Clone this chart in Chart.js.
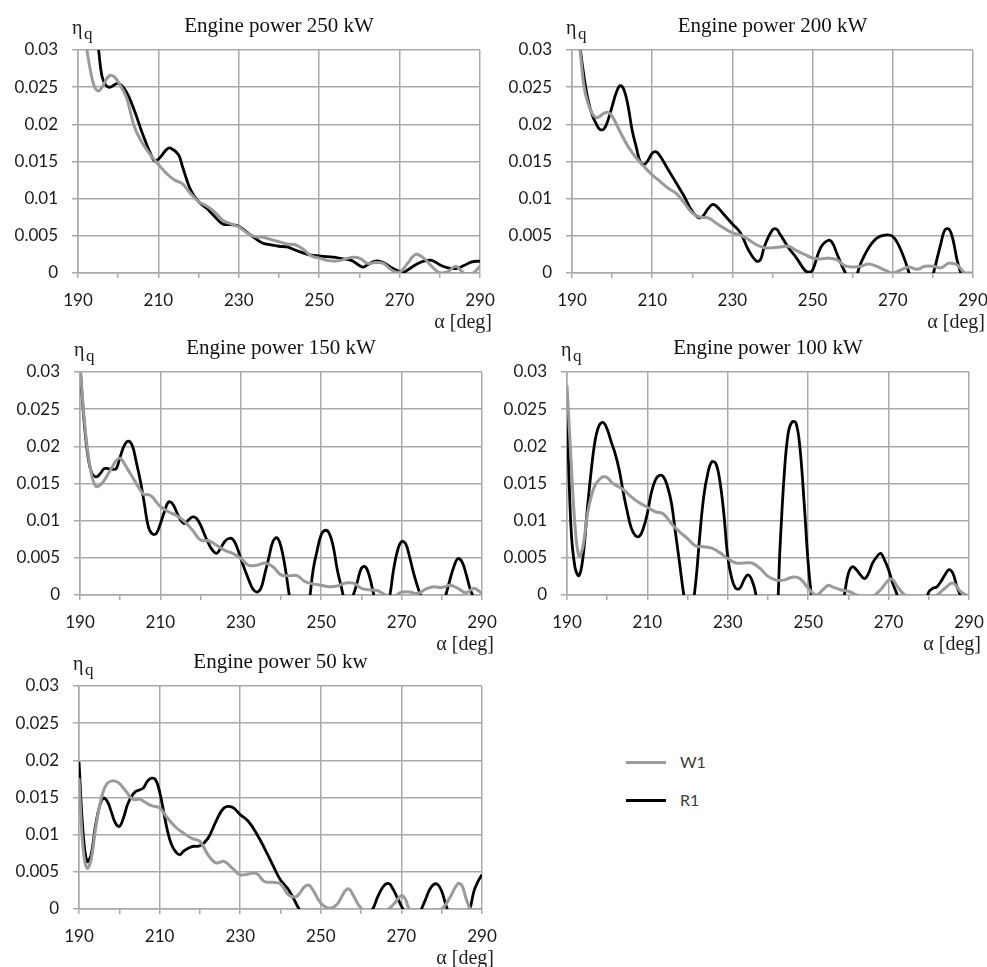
<!DOCTYPE html>
<html>
<head>
<meta charset="utf-8">
<script src="https://cdn.jsdelivr.net/npm/chart.js@4.4.1/dist/chart.umd.min.js"></script>
<style>
  html, body { margin: 0; padding: 0; background: #ffffff; overflow: hidden; }
  body { width: 987px; height: 967px; position: relative; }
  canvas { position: absolute; }
  .lg-line { position: absolute; width: 40px; height: 3px; }
  .lg-text { position: absolute; font: 16px Lato, "Open Sans", sans-serif; color: #3a3a3a; line-height: 16px; }
</style>
</head>
<body>
<div class="lg-line" style="left:626px; top:761px; background:#9a9a9a;"></div>
<div class="lg-text" style="left:680px; top:754px;">W1</div>
<div class="lg-line" style="left:626px; top:799px; background:#000000;"></div>
<div class="lg-text" style="left:680px; top:792px;">R1</div>
<script>
// ---------------- DATA ----------------
const xTickValues = [190, 210, 230, 250, 270, 290];
const yTickValues = [0, 0.005, 0.01, 0.015, 0.02, 0.025, 0.03];
const seriesNames = ['W1', 'R1'];
const panelTitles = ['Engine power 250 kW', 'Engine power 200 kW', 'Engine power 150 kW', 'Engine power 100 kW', 'Engine power 50 kw'];

// [angle in deg, eta_q]
const p250_W1 = [[190,0.045],[191,0.038],[192,0.031],[193,0.0275],[194,0.0252],[195,0.0245],[196,0.025],[197,0.026],[198,0.0266],[199,0.0264],[200,0.0257],[202,0.0237],[204,0.0197],[206,0.0175],[208,0.0159],[210,0.0146],[212,0.0134],[214,0.0125],[216,0.012],[218,0.0107],[220,0.0096],[222,0.009],[224,0.0082],[226,0.0071],[228,0.0066],[230,0.0062],[232,0.0054],[234,0.0049],[236,0.0048],[238,0.0045],[240,0.0042],[242,0.0039],[244,0.0038],[246,0.0032],[248,0.0023],[250,0.002],[252,0.0017],[254,0.0016],[256,0.0018],[258,0.0021],[260,0.002],[262,0.0013],[264,0.0014],[266,0.0013],[268,0.0004],[270,0.0001],[272,0.0013],[274,0.0025],[276,0.002],[278,0.0009],[280,0.0],[282,0.0002],[284,0.0009],[286,0.0],[288,-0.0001],[290,0.0009]];
const p250_R1 = [[190,0.05],[192,0.04],[194,0.034],[195,0.0305],[196,0.0264],[197,0.0252],[198,0.025],[200,0.0255],[202,0.0244],[204,0.0219],[206,0.0188],[208,0.0161],[209,0.0151],[210,0.0153],[212,0.0166],[213,0.0168],[215,0.0159],[216,0.0143],[218,0.0112],[220,0.0096],[222,0.0087],[224,0.0076],[226,0.0066],[228,0.0065],[230,0.0063],[232,0.0055],[234,0.0047],[236,0.004],[238,0.0038],[240,0.0036],[242,0.0035],[244,0.0031],[246,0.0027],[248,0.0024],[250,0.0023],[252,0.0022],[254,0.0021],[256,0.0019],[258,0.0017],[260,0.001],[261,0.0008],[262,0.0011],[264,0.0016],[266,0.0014],[268,0.0007],[270,0.0002],[271,0.0001],[272,0.0004],[274,0.0011],[276,0.0016],[278,0.0017],[280,0.0011],[282,0.0007],[284,0.0006],[286,0.001],[288,0.0015],[290,0.0016]];

const p200_W1 = [[190,0.04],[191,0.034],[192,0.03],[193,0.0251],[194,0.0228],[195,0.0215],[196,0.0209],[197,0.0211],[198,0.0215],[199,0.0216],[200,0.0211],[202,0.019],[204,0.017],[206,0.0155],[208,0.0143],[210,0.0132],[212,0.0123],[214,0.0114],[216,0.0107],[218,0.0094],[220,0.0081],[222,0.0075],[224,0.0074],[226,0.0067],[228,0.006],[230,0.0054],[232,0.0051],[234,0.0045],[236,0.0038],[238,0.0034],[240,0.0034],[242,0.0035],[244,0.0036],[246,0.003],[248,0.0025],[250,0.002],[252,0.0019],[254,0.002],[256,0.0018],[258,0.001],[260,0.0008],[262,0.0009],[264,0.0012],[266,0.0009],[268,0.0004],[270,0.0],[272,0.0004],[274,0.0008],[276,0.0005],[278,0.0009],[280,0.0009],[282,0.0007],[284,0.0013],[286,0.0011],[288,0.0],[290,0.0]];
const p200_R1 = [[190,0.045],[191,0.036],[192,0.0305],[193,0.0264],[194,0.0233],[195,0.0213],[196,0.0201],[197,0.0193],[198,0.0194],[199,0.0206],[200,0.0224],[201,0.0242],[202,0.0252],[203,0.0246],[204,0.0224],[205,0.0192],[206,0.017],[207,0.015],[208,0.0146],[209,0.0152],[210,0.0161],[211,0.0163],[212,0.0157],[214,0.0139],[216,0.0121],[218,0.0103],[220,0.0083],[222,0.0074],[224,0.0087],[225,0.0092],[226,0.009],[228,0.0078],[230,0.0066],[232,0.0054],[234,0.0031],[236,0.0016],[237,0.0018],[238,0.0036],[240,0.0058],[241,0.0059],[242,0.0051],[244,0.0034],[246,0.002],[248,0.0004],[249,0.0001],[250,0.0004],[252,0.0034],[254,0.0044],[255,0.004],[256,0.0027],[258,0.0002],[260,-0.0015],[262,0.0013],[264,0.0034],[266,0.0047],[268,0.0051],[270,0.0049],[272,0.0031],[274,0.0001],[276,-0.004],[278,-0.004],[280,-0.0003],[282,0.004],[283,0.0058],[284,0.0059],[285,0.0045],[286,0.0018],[287,-0.0001],[288,-0.002],[290,-0.003]];

const p150_W1 = [[190,0.031],[191,0.024],[192,0.019],[193,0.0159],[194,0.0146],[195,0.0148],[196,0.0154],[197,0.0163],[198,0.0172],[199,0.0181],[200,0.0184],[201,0.0177],[202,0.0168],[203,0.0159],[204,0.015],[205,0.0141],[206,0.0135],[207,0.0135],[208,0.0132],[209,0.0125],[210,0.0119],[212,0.0112],[214,0.0107],[216,0.0099],[218,0.0087],[220,0.0074],[222,0.0073],[224,0.0067],[226,0.006],[228,0.0056],[230,0.0049],[232,0.004],[234,0.004],[236,0.0043],[238,0.0038],[240,0.0027],[242,0.0026],[244,0.0026],[246,0.0018],[248,0.0015],[250,0.0013],[252,0.0011],[254,0.0012],[256,0.0016],[258,0.0016],[260,0.0009],[262,0.0007],[264,0.0006],[266,0.0],[268,-0.0002],[270,0.0004],[272,0.0004],[274,0.0002],[276,0.0008],[278,0.0011],[280,0.001],[282,0.0013],[284,0.0009],[286,0.0003],[288,0.0009],[290,0.0002]];
const p150_R1 = [[190,0.031],[191,0.0235],[192,0.0186],[193,0.0163],[194,0.0159],[195,0.0163],[196,0.017],[197,0.017],[198,0.0169],[199,0.017],[200,0.0186],[201,0.0201],[202,0.0207],[203,0.0201],[204,0.0179],[205,0.0154],[206,0.0123],[207,0.0092],[208,0.0082],[209,0.0083],[210,0.0096],[211,0.0112],[212,0.0125],[213,0.0123],[214,0.0112],[215,0.0101],[216,0.0096],[217,0.0101],[218,0.0105],[219,0.0103],[220,0.0094],[221,0.0081],[222,0.0069],[223,0.006],[224,0.0056],[225,0.0063],[226,0.0072],[227,0.0076],[228,0.0075],[229,0.0065],[230,0.0049],[231,0.0034],[232,0.002],[233,0.0008],[234,0.0004],[235,0.0009],[236,0.0029],[237,0.0051],[238,0.0072],[239,0.0077],[240,0.0065],[241,0.0038],[242,0.0002],[243,-0.003],[244,-0.005],[245,-0.0055],[246,-0.004],[247,-0.001],[248,0.0034],[249,0.006],[250,0.0081],[251,0.0087],[252,0.0083],[253,0.0065],[254,0.0034],[255,0.0011],[256,-0.001],[257,-0.0015],[258,0.0],[259,0.0018],[260,0.0036],[261,0.0038],[262,0.0025],[263,0.0002],[264,-0.002],[265,-0.003],[266,-0.002],[267,-0.0003],[268,0.0034],[269,0.006],[270,0.0072],[271,0.0069],[272,0.0051],[273,0.0029],[274,0.0011],[275,-0.0005],[276,-0.002],[278,-0.004],[280,-0.002],[281,0.0],[282,0.002],[283,0.0038],[284,0.0049],[285,0.0045],[286,0.0029],[287,0.0009],[288,-0.0005],[289,-0.002],[290,-0.003]];

const p100_W1 = [[190,0.0282],[191,0.0182],[192,0.0093],[193,0.0052],[194,0.0066],[195,0.0106],[196,0.0132],[197,0.0148],[198,0.0155],[199,0.0159],[200,0.0158],[201,0.0152],[202,0.0148],[204,0.0142],[206,0.0132],[208,0.0124],[210,0.0118],[212,0.0112],[214,0.0109],[216,0.0096],[218,0.0085],[220,0.0076],[222,0.0066],[224,0.0065],[226,0.0063],[228,0.0057],[230,0.0049],[232,0.0043],[234,0.0043],[236,0.0043],[238,0.0036],[240,0.0025],[242,0.002],[244,0.002],[246,0.0024],[248,0.0022],[250,0.0009],[252,0.0],[254,0.0009],[255,0.0013],[256,0.0011],[258,0.0007],[260,0.0005],[262,0.0],[264,-0.0004],[266,-0.0002],[268,0.0007],[270,0.002],[271,0.0021],[272,0.0013],[274,0.0],[276,-0.0004],[278,-0.0004],[280,-0.0002],[282,0.0],[284,0.0009],[286,0.0016],[288,0.0004],[290,-0.0002]];
const p100_R1 = [[190,0.025],[191,0.009],[192,0.0037],[193,0.0026],[194,0.0052],[195,0.0112],[196,0.0166],[197,0.0208],[198,0.0228],[199,0.0232],[200,0.0223],[201,0.0206],[202,0.019],[203,0.0168],[204,0.0138],[205,0.0112],[206,0.009],[207,0.008],[208,0.0079],[209,0.009],[210,0.011],[211,0.0138],[212,0.0155],[213,0.0161],[214,0.0159],[215,0.0146],[216,0.0123],[217,0.0083],[218,0.0043],[219,0.0002],[220,-0.003],[221,-0.002],[222,0.0016],[223,0.0078],[224,0.0132],[225,0.0163],[226,0.0179],[227,0.0177],[228,0.0154],[229,0.011],[230,0.0051],[231,0.0022],[232,0.0009],[233,0.0009],[234,0.002],[235,0.0027],[236,0.002],[237,0.0],[238,-0.005],[240,-0.009],[242,-0.004],[243,0.0065],[244,0.0159],[245,0.0217],[246,0.0233],[247,0.0231],[248,0.0195],[249,0.0123],[250,0.0043],[251,-0.001],[252,-0.004],[254,-0.007],[256,-0.007],[258,-0.003],[259,0.0],[260,0.0029],[261,0.0038],[262,0.0034],[263,0.0027],[264,0.0022],[265,0.0029],[266,0.0043],[267,0.0051],[268,0.0056],[269,0.0047],[270,0.0034],[271,0.0016],[272,0.0002],[274,-0.003],[276,-0.005],[278,-0.003],[280,0.0004],[281,0.0009],[282,0.0011],[283,0.0018],[284,0.0027],[285,0.0034],[286,0.0029],[287,0.0011],[288,-0.0002],[290,-0.003]];

const p50_W1 = [[190,0.0176],[191,0.0082],[192,0.0055],[193,0.0066],[194,0.0104],[195,0.0136],[196,0.0158],[197,0.0169],[198,0.0172],[199,0.0172],[200,0.0169],[201,0.0163],[202,0.0156],[203,0.0149],[204,0.0147],[205,0.0148],[206,0.0145],[208,0.0139],[210,0.0136],[212,0.0122],[214,0.011],[216,0.0102],[218,0.0095],[220,0.0091],[222,0.0073],[224,0.0062],[226,0.0064],[228,0.0055],[230,0.0046],[232,0.0047],[234,0.0048],[236,0.0037],[238,0.0036],[240,0.0034],[242,0.0019],[244,0.0017],[246,0.003],[247,0.0032],[248,0.0026],[250,0.0008],[252,0.0001],[254,0.0006],[256,0.0024],[257,0.0027],[258,0.0019],[260,0.0001],[262,-0.0003],[264,-0.0003],[266,-0.0003],[268,0.0006],[270,0.0018],[271,0.0013],[272,0.0],[274,-0.0005],[276,-0.0003],[278,-0.0002],[280,0.0],[282,0.0015],[284,0.0034],[285,0.0032],[286,0.0015],[287,0.0001],[288,-0.0003],[290,0.0]];
const p50_R1 = [[190,0.0198],[191,0.0104],[192,0.0064],[193,0.0073],[194,0.0109],[195,0.0136],[196,0.0149],[197,0.0145],[198,0.0131],[199,0.0116],[200,0.0111],[201,0.0122],[202,0.014],[203,0.0151],[204,0.0158],[205,0.016],[206,0.0163],[207,0.0172],[208,0.0176],[209,0.0174],[210,0.0158],[211,0.0131],[212,0.0104],[213,0.0086],[214,0.0077],[215,0.0073],[216,0.0078],[218,0.0084],[220,0.0085],[222,0.0095],[224,0.0118],[226,0.0136],[228,0.0137],[230,0.0127],[232,0.0118],[234,0.0102],[236,0.0082],[238,0.006],[240,0.0039],[242,0.0026],[244,0.0006],[245,-0.0005],[248,-0.006],[252,-0.008],[256,-0.007],[260,-0.003],[262,-0.0005],[263,0.0001],[264,0.0015],[265,0.0026],[266,0.0033],[267,0.0034],[268,0.0026],[269,0.0015],[270,0.0004],[271,-0.0006],[272,-0.002],[273,-0.0025],[274,-0.0015],[275,0.0],[276,0.0013],[277,0.0026],[278,0.0033],[279,0.0033],[280,0.0024],[281,0.0006],[282,-0.001],[283,-0.003],[285,-0.003],[287,0.0],[288,0.0024],[289,0.0037],[290,0.0046]];

// ---------------- LAYOUT / STYLE ----------------
const GRID = '#a9a9a9';
const W1_COLOR = '#9a9a9a';
const R1_COLOR = '#000000';
const Y_AXIS_W = 78, TOP_H = 50, X_AXIS_H = 62, RIGHT_PAD = 30;

const panels = [
  { title: panelTitles[0], w1: p250_W1, r1: p250_R1, l: 78,  t: 50,  r: 480, b: 273 },
  { title: panelTitles[1], w1: p200_W1, r1: p200_R1, l: 572, t: 50,  r: 973, b: 273 },
  { title: panelTitles[2], w1: p150_W1, r1: p150_R1, l: 80,  t: 372, r: 482, b: 595 },
  { title: panelTitles[3], w1: p100_W1, r1: p100_R1, l: 567, t: 372, r: 969, b: 595 },
  { title: panelTitles[4], w1: p50_W1,  r1: p50_R1,  l: 79,  t: 686, r: 482, b: 909 }
];

const axisTextPlugin = {
  id: 'axisText',
  afterDraw(chart) {
    const { ctx, chartArea: a } = chart;
    ctx.save();
    ctx.fillStyle = '#1e1e1e';
    ctx.textAlign = 'left';
    ctx.textBaseline = 'alphabetic';
    ctx.font = '20px "Liberation Serif", serif';
    ctx.fillText('η', a.left - 6, a.top - 16);
    ctx.font = '17px "Liberation Serif", serif';
    ctx.fillText('q', a.left + 6, a.top - 11);
    ctx.textAlign = 'right';
    ctx.font = '20px "Liberation Serif", serif';
    ctx.fillText('α [deg]', a.right + 12, a.bottom + 55);
    ctx.restore();
  }
};

const isMajorX = v => Math.abs(((v - xTickValues[0]) % 20)) < 1e-6;

function makePanel(p) {
  const cw = (p.r - p.l) + Y_AXIS_W + RIGHT_PAD;
  const ch = (p.b - p.t) + TOP_H + X_AXIS_H;
  const canvas = document.createElement('canvas');
  canvas.width = cw; canvas.height = ch;
  canvas.style.left = (p.l - Y_AXIS_W) + 'px';
  canvas.style.top = (p.t - TOP_H) + 'px';
  canvas.style.width = cw + 'px';
  canvas.style.height = ch + 'px';
  document.body.appendChild(canvas);

  const mk = (arr) => arr.map(d => ({ x: d[0], y: d[1] }));

  new Chart(canvas, {
    type: 'line',
    data: {
      datasets: [
        { label: seriesNames[0], data: mk(p.w1), borderColor: W1_COLOR, borderWidth: 3, pointRadius: 0, tension: 0.4, clip: 0, fill: false },
        { label: seriesNames[1], data: mk(p.r1), borderColor: R1_COLOR, borderWidth: 2.8, pointRadius: 0, tension: 0.4, clip: 0, fill: false }
      ]
    },
    plugins: [axisTextPlugin],
    options: {
      responsive: false,
      animation: false,
      devicePixelRatio: 1,
      layout: { padding: { left: 0, right: RIGHT_PAD, top: 0, bottom: 0 } },
      plugins: {
        legend: { display: false },
        tooltip: { enabled: false },
        title: {
          display: true,
          text: p.title,
          fullSize: false,
          color: '#111111',
          font: { family: '"Liberation Serif", serif', size: 21, weight: 'normal', lineHeight: 1.2 },
          padding: { top: 14, bottom: 10.8 }
        }
      },
      scales: {
        x: {
          type: 'linear',
          min: 190, max: 290,
          afterFit: s => { s.height = X_AXIS_H; },
          ticks: {
            stepSize: 10,
            autoSkip: false,
            maxRotation: 0,
            padding: 12,
            color: '#1a1a1a',
            font: { family: 'Lato, "Open Sans", sans-serif', size: 17 },
            callback: v => (xTickValues.includes(v) ? String(v) : '')
          },
          grid: {
            color: c => (c.tick && isMajorX(c.tick.value) ? GRID : 'rgba(0,0,0,0)'),
            tickColor: GRID,
            lineWidth: 1.5,
            tickLength: 5,
            tickWidth: 1.5
          },
          border: { display: true, color: GRID, width: 1.5 }
        },
        y: {
          type: 'linear',
          min: 0, max: 0.03,
          afterFit: s => { s.width = Y_AXIS_W; },
          ticks: {
            stepSize: 0.005,
            padding: 14,
            color: '#1a1a1a',
            font: { family: 'Lato, "Open Sans", sans-serif', size: 17 },
            callback: v => {
              const r = Number(v.toFixed(4));
              const hit = yTickValues.find(t => Math.abs(t - r) < 1e-9);
              return hit === undefined ? '' : String(hit);
            }
          },
          grid: { color: GRID, lineWidth: 1.5, tickLength: 6, tickColor: GRID, tickWidth: 1.5 },
          border: { display: true, color: GRID, width: 1.5 }
        }
      }
    }
  });
}

panels.forEach(makePanel);
</script>
</body>
</html>
